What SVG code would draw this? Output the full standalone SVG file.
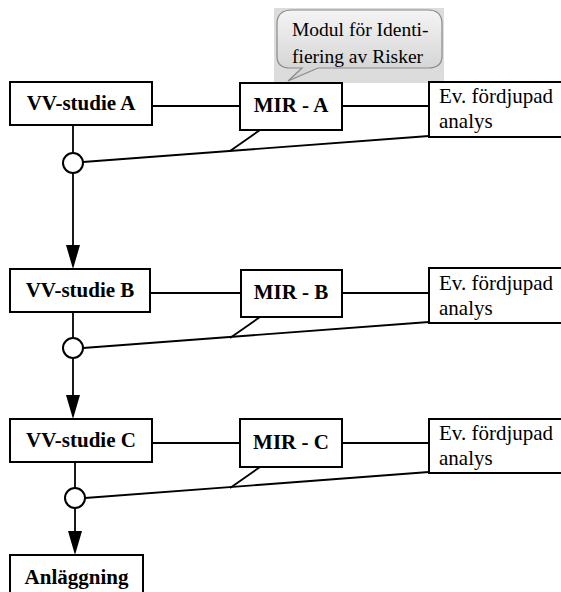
<svg xmlns="http://www.w3.org/2000/svg" width="561" height="592" viewBox="0 0 561 592">
<style>
.box{fill:#fff;stroke:#000;stroke-width:2}
.ln{fill:none;stroke:#000;stroke-width:1.8}
.circ{fill:#fff;stroke:#000;stroke-width:2}
.b{font-family:"Liberation Serif","Times New Roman",serif;font-weight:bold;font-size:21px;fill:#000;text-anchor:middle}
.r{font-family:"Liberation Serif","Times New Roman",serif;font-size:21px;fill:#000}
.c{font-family:"Liberation Serif","Times New Roman",serif;font-size:19.5px;fill:#000}
</style>
<defs>
<linearGradient id="bg" x1="0" y1="0" x2="0" y2="1">
<stop offset="0" stop-color="#f4f4f4"/>
<stop offset="1" stop-color="#cfcfcf"/>
</linearGradient>
</defs>
<g id="connectors">
<line class="ln" x1="152" y1="106" x2="240" y2="106"/>
<line class="ln" x1="342" y1="106" x2="429" y2="106"/>
<line class="ln" x1="73" y1="125" x2="73" y2="153"/>
<line class="ln" x1="83" y1="162" x2="429" y2="136"/>
<line class="ln" x1="260" y1="130" x2="230" y2="151"/>
<line class="ln" x1="73" y1="173" x2="73" y2="245"/>
<path d="M66,245 L80,245 L73,269 Z" fill="#000"/>

<line class="ln" x1="150" y1="293" x2="241" y2="293"/>
<line class="ln" x1="342" y1="293" x2="429" y2="293"/>
<line class="ln" x1="73" y1="312" x2="73" y2="338"/>
<line class="ln" x1="83" y1="348" x2="429" y2="322"/>
<line class="ln" x1="260" y1="317" x2="230" y2="338"/>
<line class="ln" x1="73" y1="358" x2="73" y2="395"/>
<path d="M66,395 L80,395 L73,419 Z" fill="#000"/>

<line class="ln" x1="152" y1="443" x2="240" y2="443"/>
<line class="ln" x1="342" y1="443" x2="429" y2="443"/>
<line class="ln" x1="75" y1="462" x2="75" y2="488"/>
<line class="ln" x1="85" y1="498" x2="429" y2="472"/>
<line class="ln" x1="260" y1="467" x2="230" y2="488"/>
<line class="ln" x1="75" y1="508" x2="75" y2="531"/>
<path d="M68,531 L82,531 L75,555 Z" fill="#000"/>
</g>
<g id="callout">
<rect x="274" y="8" width="170" height="75" fill="#dcdcdc"/>
<path d="M292,10 L428,10 Q442,10 442,24 L442,56 Q442,68 428,68 L318,68 L288,81 L302,68 L290,68 Q277,68 277,56 L277,24 Q277,10 292,10 Z" fill="url(#bg)" stroke="#8a8a8a" stroke-width="1.2"/>
<text class="c" x="292" y="36">Modul för Identi-</text>
<text class="c" x="292" y="63">fiering av Risker</text>
</g>
<g id="vvA">
<rect class="box" x="10" y="82" width="142" height="43"/>
<text class="b" x="81" y="110">VV-studie A</text>
</g>
<g id="mirA">
<rect class="box" x="240" y="83" width="102" height="47"/>
<text class="b" x="291" y="112">MIR - A</text>
</g>
<g id="evA">
<rect class="box" x="429" y="82" width="140" height="55"/>
<text class="r" x="439" y="103">Ev. fördjupad</text>
<text class="r" x="439" y="128">analys</text>
</g>
<circle id="junctionA" class="circ" cx="73" cy="163" r="10"/>
<g id="vvB">
<rect class="box" x="10" y="269" width="140" height="43"/>
<text class="b" x="80" y="297">VV-studie B</text>
</g>
<g id="mirB">
<rect class="box" x="241" y="270" width="101" height="47"/>
<text class="b" x="291" y="299">MIR - B</text>
</g>
<g id="evB">
<rect class="box" x="429" y="268" width="140" height="55"/>
<text class="r" x="439" y="290">Ev. fördjupad</text>
<text class="r" x="439" y="315">analys</text>
</g>
<circle id="junctionB" class="circ" cx="73" cy="348" r="10"/>
<g id="vvC">
<rect class="box" x="10" y="419" width="142" height="43"/>
<text class="b" x="81" y="447">VV-studie C</text>
</g>
<g id="mirC">
<rect class="box" x="240" y="419" width="102" height="48"/>
<text class="b" x="291" y="449">MIR - C</text>
</g>
<g id="evC">
<rect class="box" x="429" y="419" width="140" height="54"/>
<text class="r" x="439" y="440">Ev. fördjupad</text>
<text class="r" x="439" y="465">analys</text>
</g>
<circle id="junctionC" class="circ" cx="75" cy="498" r="10"/>
<g id="anlaggning">
<rect class="box" x="10" y="555" width="133" height="40"/>
<text class="b" x="76.5" y="584">Anläggning</text>
</g>
</svg>
